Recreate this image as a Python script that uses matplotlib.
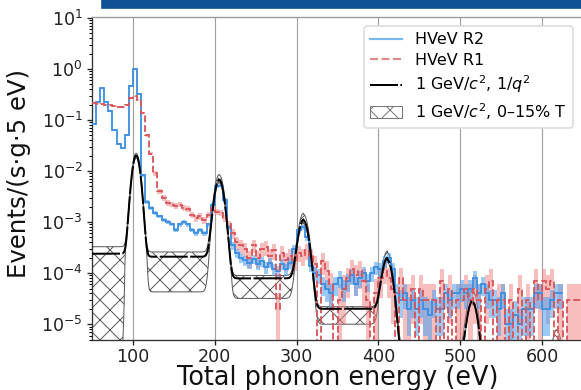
import numpy as np
import matplotlib
matplotlib.use("Agg")
import matplotlib.pyplot as plt
from matplotlib.lines import Line2D
from matplotlib.patches import Patch, Rectangle
from math import erf

# ---------------- data (5 eV bins) ----------------
bin_start = 50
bin_width = 5

# HVeV R2 (blue), bins 50..625 eV
r2_values = [
    0.085, 0.23, 0.42, 0.23, 0.15, 0.063, 0.034, 0.028, 0.051, 0.47,          # 50-95
    1.0, 0.33, 0.0083, 0.0025, 0.0019, 0.0015, 0.0013, 0.0011, 0.001, 0.0009,  # 100-145
    0.0007, 0.0009, 0.001, 0.0009, 0.0007, 0.0006, 0.0007, 0.0006, 0.0009, 0.0022,  # 150-195
    0.0050, 0.0052, 0.0027, 0.0008, 0.00035, 0.00025, 0.0002, 0.00018, 0.00016, 0.00019,  # 200-245
    0.00015, 0.00017, 0.00013, 0.00016, 0.00012, 0.00011, 0.00015, 0.00012, 0.00016, 0.0003,  # 250-295
    0.0007, 0.0008, 0.0005, 0.00014, 0.0001, 0.00009, 0.00006, 0.00005, 0.00004, 0.00006,  # 300-345
    0.00008, 0.00005, 0.00007, 0.00009, 0.00006, 0.00008, 0.0001, 0.00007, 0.0001, 0.00013,  # 350-395
    0.00012, 0.00017, 0.0002, 0.00012, 0.00004, 0.00003, 0.00004, 0.00002, 0.00003, 0.00002,  # 400-445
    0.00003, 0.00002, 0.000015, 0.00003, 0.00002, 0.00002, 0.00004, 0.00003, 0.00004, 0.00004,  # 450-495
    0.00005, 0.00004, 0.00005, 0.00008, 0.00004, 0.00006, 0.00004, 0.00003, 0.00003, 0.00002,  # 500-545
    0.00004, 0.00001, 0.00001, 0.000015, 0.00001, 0.00002, 0.00002, 0.00002, 0.00004, 0.00004,  # 550-595
    0.00002, 0.00002, 0.00003, 0.00004, 0.00004,                                  # 600-620
]
r2_relerr = [
    0.03, 0.03, 0.03, 0.03, 0.03, 0.03, 0.03, 0.03, 0.03, 0.03,
    0.03, 0.03, 0.06, 0.08, 0.08, 0.08, 0.08, 0.08, 0.08, 0.08,
    0.09, 0.09, 0.09, 0.09, 0.10, 0.10, 0.10, 0.10, 0.09, 0.07,
    0.06, 0.06, 0.08, 0.12, 0.18, 0.20, 0.22, 0.22, 0.24, 0.22,
    0.24, 0.22, 0.25, 0.22, 0.26, 0.27, 0.24, 0.26, 0.24, 0.18,
    0.12, 0.12, 0.14, 0.26, 0.30, 0.32, 0.40, 0.45, 0.50, 0.40,
    0.35, 0.45, 0.40, 0.35, 0.40, 0.35, 0.32, 0.38, 0.32, 0.28,
    0.30, 0.25, 0.22, 0.30, 0.50, 0.55, 0.50, 0.70, 0.55, 0.70,
    0.55, 0.70, 0.90, 0.55, 0.70, 0.70, 0.50, 0.55, 0.50, 0.50,
    0.45, 0.50, 0.45, 0.35, 0.50, 0.40, 0.50, 0.55, 0.55, 0.70,
    0.50, 1.00, 1.00, 0.90, 1.00, 0.70, 0.70, 0.70, 0.50, 0.50,
    0.70, 0.70, 0.55, 0.50, 0.50,
]

# HVeV R1 (red dashed), bins 50..645 eV
r1_values = [
    0.22, 0.21, 0.21, 0.2, 0.2, 0.19, 0.18, 0.18, 0.2, 0.27,                   # 50-95
    0.29, 0.25, 0.14, 0.05, 0.022, 0.009, 0.004, 0.003, 0.0024, 0.0022,        # 100-145
    0.0021, 0.0022, 0.0019, 0.0018, 0.0014, 0.0012, 0.0013, 0.0011, 0.0014, 0.0019,  # 150-195
    0.0016, 0.0015, 0.0012, 0.0009, 0.0006, 0.0004, 0.00035, 0.0003, 0.0002, 0.00035,  # 200-245
    0.0002, 0.0003, 0.00032, 0.00022, 0.00028, 0.00002, 0.00025, 0.00018, 0.00022, 0.00018,  # 250-295
    0.00025, 0.00022, 0.00028, 0.00022, 0.00015, 0.0, 0.00017, 0.00011, 0.00006, 0.0,  # 300-345
    0.00003, 0.00005, 0.00008, 0.00012, 0.00009, 0.00011, 0.00007, 0.00003, 0.0, 0.00004,  # 350-395
    0.00008, 0.00012, 0.00008, 0.00005, 0.0, 0.00008, 0.00003, 0.00003, 0.00005, 0.0,  # 400-445
    0.00005, 0.00003, 0.00003, 0.00003, 0.0, 0.00007, 0.0, 0.00005, 0.0, 0.00003,  # 450-495
    0.00003, 0.00005, 0.00003, 0.00005, 0.00003, 0.0, 0.00005, 0.00007, 0.0, 0.00003,  # 500-545
    0.00003, 0.0, 0.00003, 0.0, 0.00005, 0.0, 0.00003, 0.0, 0.00007, 0.00003,  # 550-595
    0.00007, 0.00005, 0.00007, 0.0, 0.00003, 0.0, 0.00003, 0.00003, 0.00003, 0.00003,  # 600-645
]
r1_relerr = [
    0.03, 0.03, 0.03, 0.03, 0.03, 0.03, 0.03, 0.03, 0.03, 0.03,
    0.03, 0.03, 0.04, 0.06, 0.08, 0.10, 0.12, 0.12, 0.12, 0.12,
    0.12, 0.12, 0.12, 0.13, 0.14, 0.15, 0.15, 0.15, 0.15, 0.13,
    0.13, 0.14, 0.15, 0.18, 0.22, 0.30, 0.30, 0.32, 0.38, 0.30,
    0.38, 0.32, 0.32, 0.38, 0.35, 1.00, 0.35, 0.40, 0.38, 0.40,
    0.35, 0.38, 0.35, 0.38, 0.45, 0.00, 0.45, 0.55, 0.70, 0.00,
    1.00, 0.80, 0.60, 0.50, 0.60, 0.55, 0.70, 1.00, 0.00, 0.90,
    0.60, 0.50, 0.60, 0.80, 0.00, 0.60, 1.00, 1.00, 0.80, 0.00,
    0.80, 1.00, 1.00, 1.00, 0.00, 0.70, 0.00, 0.80, 0.00, 1.00,
    1.00, 0.80, 1.00, 0.80, 1.00, 0.00, 0.80, 0.70, 0.00, 1.00,
    1.00, 0.00, 1.00, 0.00, 0.80, 0.00, 1.00, 0.00, 0.70, 1.00,
    0.70, 0.80, 0.70, 0.00, 1.00, 0.00, 1.00, 1.00, 1.00, 1.00,
]

# model: 1 GeV/c^2 dark matter, 1/q^2 form factor
peak_E = [104, 205.5, 308.5, 411, 515, 618]
peak_sigma = [4.0, 4.7, 5.0, 5.0, 5.0, 5.0]
peak_mid = [0.020, 0.0066, 0.00105, 0.00018, 2.7e-5, 4e-6]
peak_hi = [0.022, 0.0083, 0.0014, 0.00025, 4.6e-5, 7.5e-6]
peak_lo = [0.018, 0.0058, 0.0009, 0.00016, 2.4e-5, 3.5e-6]
# continuum levels in the regions between peaks (region k ends at peak k)
base_mid = [2.4e-4, 2.1e-4, 7.9e-5, 2.0e-5, 2e-6, 2e-7, 1e-8]
base_hi = [3.3e-4, 2.6e-4, 9.0e-5, 2.2e-5, 3e-6, 3e-7, 1e-8]
base_lo = [1e-8, 4.3e-5, 3.2e-5, 1.0e-5, 1e-6, 1e-7, 1e-9]
box_left = [0, 117.5, 220.5, 322.5, 425, 530, 632]
box_right = [89, 194, 298.5, 400, 505, 608, 700]

xticks = [100, 200, 300, 400, 500, 600]

# ---------------- figure ----------------
DPI = 120
fig = plt.figure(figsize=(581 / DPI, 390 / DPI), dpi=DPI)
plt.rcParams['hatch.linewidth'] = 0.6

fig.patches.append(Rectangle((102 / 581, 1 - 8 / 390), (581 - 102) / 581, 8 / 390,
                             transform=fig.transFigure, color='#0f5096', zorder=0))

ax = fig.add_axes([92 / 581, 1 - 340 / 390, (583 - 92) / 581, (340 - 17) / 390])
ax.set_yscale('log', nonpositive='clip')

edges_r2 = bin_start + bin_width * np.arange(len(r2_values) + 1)
edges_r1 = bin_start + bin_width * np.arange(len(r1_values) + 1)
v2 = np.array(r2_values); e2 = np.array(r2_relerr)
v1 = np.array(r1_values); e1 = np.array(r1_relerr)

# model curves
E = np.linspace(50, 650, 4001)
region = np.searchsorted(np.array(peak_E), E)
bm = np.array(base_mid)[region]
bh = np.array(base_hi)[region]
bl = np.array(base_lo)[region]
bxl = np.array(box_left)[region]
bxr = np.array(box_right)[region]
verf = np.vectorize(erf)
w = 1.3
inbox = 0.5 * (verf((E - bxl) / w) - verf((E - bxr) / w))
L = np.exp(np.log(bm) + inbox * (np.log(bl) - np.log(bm)))

def peaks(heights):
    out = np.zeros_like(E)
    for mu, s, h in zip(peak_E, peak_sigma, heights):
        out += h * np.exp(-0.5 * ((E - mu) / s) ** 2)
    return out

model_mid = peaks(peak_mid) + bm
model_hi = peaks(peak_hi) + bh
model_lo = peaks(peak_lo) + L

ax.fill_between(E, model_lo, model_hi, facecolor='none', edgecolor='#5a5a5a',
                hatch='xx', linewidth=0.6, zorder=2)

# error bands
ax.stairs(v1 * (1 + e1), edges_r1, baseline=v1 * (1 - e1), fill=True,
          color='#f27c7c', alpha=0.5, linewidth=0, zorder=3)
ax.stairs(v2 * (1 + e2), edges_r2, baseline=v2 * (1 - e2), fill=True,
          color='#4aa0f2', alpha=0.55, linewidth=0, zorder=3)

ax.stairs(v2, edges_r2, baseline=None, color='#3d8fe0', linewidth=1.1, zorder=4)
ax.stairs(v1, edges_r1, baseline=None, color='#d9555a', linewidth=1.1,
          linestyle='--', zorder=4)

dash_style = (0, (14, 1.2))
ax.plot(E, model_mid, color='black', linewidth=1.2, linestyle=dash_style, zorder=5)

ax.set_xlim(50, 650)
ax.set_ylim(4.9e-6, 10.46)
ax.set_xticks(xticks)
ax.tick_params(axis='both', labelsize=10.5, colors='#222222', length=3)
ax.tick_params(axis='x', pad=1.5)
ax.tick_params(axis='y', pad=2.5)
ax.tick_params(axis='y', which='minor', length=1.8)
ax.grid(axis='x', color='#a0a0a0', linewidth=0.7, zorder=1)
ax.set_axisbelow(True)
for s in ['left', 'bottom']:
    ax.spines[s].set_color('#333333')
ax.spines['top'].set_color('#999999')
ax.spines['right'].set_visible(False)

ax.set_xlabel('Total phonon energy (eV)', fontsize=15.3, color='#111111')
ax.set_ylabel('Events/(s·g·5 eV)', fontsize=14.6, color='#111111')
ax.xaxis.set_label_coords(0.5, -0.078)
ax.yaxis.set_label_coords(-0.125, 0.515)

handles = [
    Line2D([], [], color='#7ab8ef', linewidth=1.3),
    Line2D([], [], color='#dc8a8a', linewidth=1.3, linestyle='--'),
    Line2D([], [], color='black', linewidth=1.2, linestyle=dash_style),
    Patch(facecolor='none', edgecolor='#777777', hatch='xx', linewidth=0.6),
]
labels = ['HVeV R2', 'HVeV R1', '1 GeV/$c^2$, 1/$q^2$', '1 GeV/$c^2$, 0–15% T']
ax.legend(handles, labels, loc='upper right', bbox_to_anchor=(573 / 581, 1 - 26 / 390),
          bbox_transform=fig.transFigure, borderaxespad=0, fontsize=9.6,
          handlelength=2.0, handletextpad=0.8, labelspacing=0.35, frameon=True,
          fancybox=True, framealpha=1.0, edgecolor='#dddddd')

fig.savefig('out.png', dpi=DPI)
